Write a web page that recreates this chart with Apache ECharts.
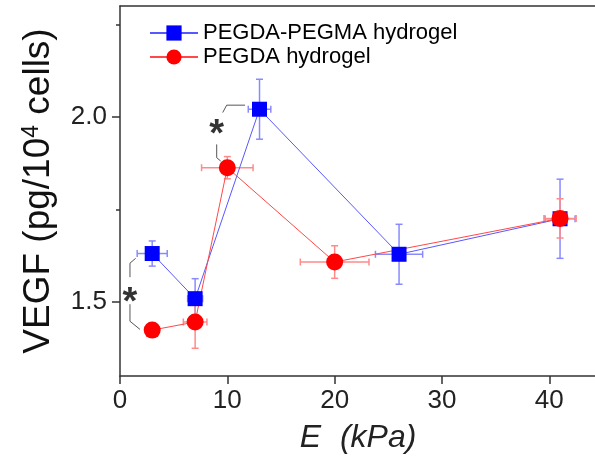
<!DOCTYPE html>
<html>
<head>
<meta charset="utf-8">
<script src="https://cdn.jsdelivr.net/npm/echarts@6/dist/echarts.min.js"></script>
<style>
html,body{margin:0;padding:0;background:#fff;}
#chart{width:595px;height:463px;}
</style>
</head>
<body>
<div id="chart"></div>
<script>
// ---- data ----
const seriesNames = ['PEGDA-PEGMA hydrogel', 'PEGDA hydrogel'];
const blueX = [3, 7, 13, 26, 41];
const blueY = [1.631, 1.509, 2.021, 1.629, 1.725];
const blueXErr = [1.4, 0.7, 1.05, 2.2, 1.4];
const blueYErr = [0.034, 0.054, 0.081, 0.081, 0.107];
const redX = [3, 7, 10, 20, 41];
const redY = [1.424, 1.446, 1.863, 1.608, 1.726];
const redXErr = [0.5, 1.1, 2.4, 3.2, 1.5];
const redYErr = [0.01, 0.071, 0.03, 0.044, 0.053];
const xTicks = [0, 10, 20, 30, 40];
const yTicks = [1.5, 2.0];
const yMinorTicks = [1.75, 2.25];
// significance brackets
const b1Top = [[1.46, 1.618], [0.93, 1.605], [0.93, 1.567]];
const b1Bot = [[0.93, 1.494], [0.93, 1.448], [1.86, 1.426]];
const b2Top = [[11.65, 2.032], [9.94, 2.032], [9.57, 2.012]];
const b2Bot = [[9.01, 1.926], [9.01, 1.890], [9.38, 1.881]];
const stars = [[0.93, 1.521], [9.01, 1.973]];

const FONT = 'Liberation Sans, Arial, sans-serif';

function zip(xs, ys) { return xs.map((x, i) => [x, ys[i]]); }
function errData(xs, ys, ex, ey) { return xs.map((x, i) => [x, ys[i], ex[i], ey[i]]); }

function errRender(color) {
  return function (params, api) {
    const x = api.value(0), y = api.value(1), ex = api.value(2), ey = api.value(3);
    const p0 = api.coord([x, y - ey]), p1 = api.coord([x, y + ey]);
    const q0 = api.coord([x - ex, y]), q1 = api.coord([x + ex, y]);
    const c = 3.5;
    const style = { stroke: color, lineWidth: 1.5 };
    const L = (x1, y1, x2, y2) => ({ type: 'line', shape: { x1, y1, x2, y2 }, style });
    return {
      type: 'group',
      children: [
        L(p0[0], p0[1], p1[0], p1[1]),
        L(p0[0] - c, p0[1], p0[0] + c, p0[1]),
        L(p1[0] - c, p1[1], p1[0] + c, p1[1]),
        L(q0[0], q0[1], q1[0], q1[1]),
        L(q0[0], q0[1] - c, q0[0], q0[1] + c),
        L(q1[0], q1[1] - c, q1[0], q1[1] + c)
      ]
    };
  };
}

function bracket(data) {
  return {
    type: 'line', data: data, symbol: 'none', silent: true, z: 1,
    lineStyle: { color: '#555', width: 1 }, animation: false
  };
}

const chart = echarts.init(document.getElementById('chart'), null, { renderer: 'canvas' });
chart.setOption({
  animation: false,
  backgroundColor: '#fff',
  grid: { left: 120, right: -1, top: 6, bottom: 87, containLabel: false, outerBoundsMode: 'none' },
  legend: {
    data: seriesNames,
    orient: 'vertical',
    left: 149, top: 22, padding: 0,
    itemWidth: 48, itemHeight: 19, itemGap: 2,
    textStyle: { fontFamily: FONT, fontSize: 22, color: '#000' }
  },
  xAxis: [{
    type: 'value', min: 0, max: 44.35,
    axisLine: { show: true, onZero: false, lineStyle: { color: '#333', width: 1.5 } },
    axisTick: { show: true, inside: false, length: 8, customValues: xTicks, lineStyle: { color: '#333', width: 1.5 } },
    axisLabel: { fontFamily: FONT, fontSize: 26, color: '#222', margin: 12, customValues: xTicks },
    splitLine: { show: false },
    name: '{e|E} (kPa)', nameLocation: 'middle', nameGap: 46,
    nameTextStyle: { fontFamily: FONT, fontSize: 32, fontStyle: 'italic', color: '#222',
      rich: { e: { fontFamily: FONT, fontSize: 32, fontStyle: 'italic', color: '#222', padding: [0, 10, 0, 0] } } }
  }, {
    type: 'value', position: 'top', min: 0, max: 44.35,
    axisLine: { show: true, onZero: false, lineStyle: { color: '#333', width: 1.5 } },
    axisTick: { show: false }, axisLabel: { show: false }, splitLine: { show: false }
  }],
  yAxis: [{
    type: 'value', min: 1.3, max: 2.3,
    axisLine: { show: true, onZero: false, lineStyle: { color: '#333', width: 1.5 } },
    axisTick: { show: true, length: 8, customValues: yTicks, lineStyle: { color: '#333', width: 1.5 } },
    axisLabel: { fontFamily: FONT, fontSize: 26, color: '#222', margin: 13, customValues: yTicks,
      formatter: v => v.toFixed(1) },
    splitLine: { show: false },
    name: 'VEGF (pg/10{sup|4} cells)', nameLocation: 'middle', nameGap: 63, nameRotate: 90,
    nameTextStyle: {
      fontFamily: FONT, fontSize: 37, color: '#111',
      rich: { sup: { fontFamily: FONT, fontSize: 23, color: '#111', verticalAlign: 'top', padding: [0, 0, 10, 0] } }
    }
  }, {
    type: 'value', min: 1.3, max: 2.3, position: 'left',
    axisLine: { show: false },
    axisTick: { show: true, length: 4, customValues: yMinorTicks, lineStyle: { color: '#333', width: 1.5 } },
    axisLabel: { show: false }, splitLine: { show: false }
  }],
  series: [
    bracket(b1Top), bracket(b1Bot), bracket(b2Top), bracket(b2Bot),
    {
      type: 'scatter', data: stars, symbolSize: 1, itemStyle: { color: 'rgba(0,0,0,0)' }, silent: true,
      label: { show: true, position: 'inside', formatter: '*', fontFamily: FONT, fontSize: 38,
        fontWeight: 'bold', color: '#000', offset: [0, 9] }
    },
    {
      type: 'custom', name: 'blueErr', data: errData(blueX, blueY, blueXErr, blueYErr),
      renderItem: errRender('#8a8aff'), silent: true, encode: { x: 0, y: 1 }
    },
    {
      type: 'line', name: seriesNames[0], data: zip(blueX, blueY),
      symbol: 'rect', symbolSize: 15,
      itemStyle: { color: '#0000ff' },
      lineStyle: { color: '#5858ff', width: 1 }
    },
    {
      type: 'custom', name: 'redErr', data: errData(redX, redY, redXErr, redYErr),
      renderItem: errRender('#ff8a8a'), silent: true, encode: { x: 0, y: 1 }
    },
    {
      type: 'line', name: seriesNames[1], data: zip(redX, redY),
      symbol: 'circle', symbolSize: 17,
      itemStyle: { color: '#ff0000' },
      lineStyle: { color: '#ff4848', width: 1 }
    }
  ]
});
</script>
</body>
</html>
